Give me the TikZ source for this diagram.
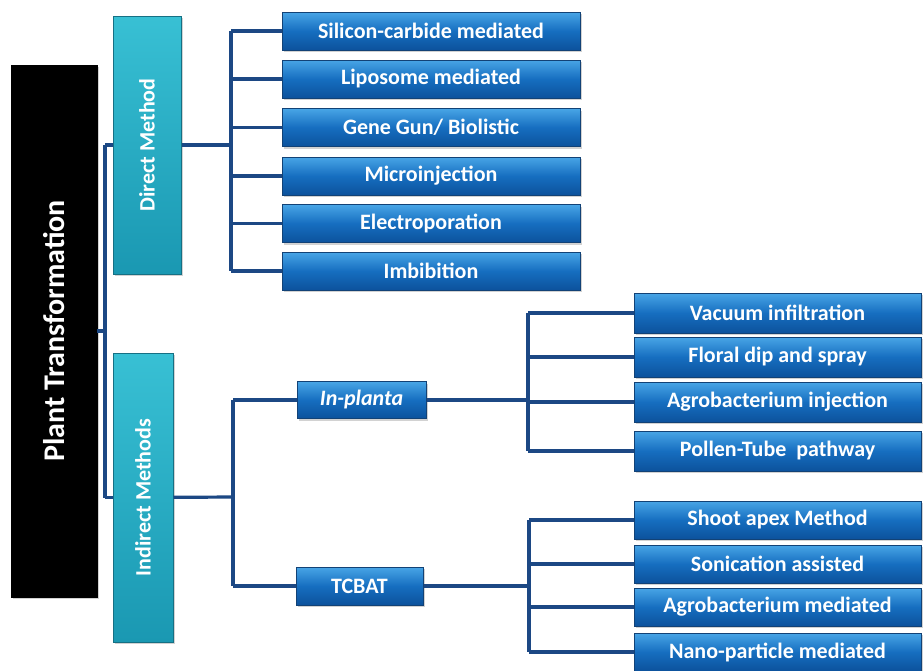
\documentclass[tikz,border=0pt]{standalone}
\usepackage{fontspec}
\setmainfont{Carlito}
\usetikzlibrary{shadows}
\definecolor{bluemid}{RGB}{22,110,192}
\definecolor{bluetop}{RGB}{72,165,230}
\definecolor{bluebot}{RGB}{12,82,156}
\definecolor{blueedge}{RGB}{18,66,118}
\definecolor{tealtop}{RGB}{56,192,212}
\definecolor{tealbot}{RGB}{26,152,178}
\definecolor{tealedge}{RGB}{22,112,132}
\definecolor{linecol}{RGB}{28,72,132}
\tikzset{
  bluebox/.style={draw=blueedge, line width=1pt, top color=bluetop, bottom color=bluebot, middle color=bluemid,
    text=white, font=\bfseries\fontsize{22}{26}\selectfont, inner sep=0pt,
    drop shadow={shadow xshift=1.5pt, shadow yshift=-2pt, opacity=0.35}},
  tealbox/.style={draw=tealedge, line width=1pt, top color=tealtop, bottom color=tealbot,
    text=white, font=\bfseries\fontsize{22}{26}\selectfont, inner sep=0pt, rotate=90,
    drop shadow={shadow xshift=1.5pt, shadow yshift=-2pt, opacity=0.35}},
  blackbox/.style={fill=black, draw=black, text=white, font=\bfseries\fontsize{30}{34}\selectfont,
    inner sep=0pt, rotate=90, drop shadow={shadow xshift=1.5pt, shadow yshift=-2pt, opacity=0.35}},
  conn/.style={draw=linecol, line width=3.2pt},
}
\begin{document}
\begin{tikzpicture}[x=1pt,y=-1pt]
\useasboundingbox (0,0) rectangle (923,670);
\fill[white] (0,0) rectangle (923,670);

% junction coordinates
\coordinate (j0) at (105,331);
\coordinate (jd) at (231,145);
\coordinate (ji) at (233,497);
\coordinate (jp) at (528,400);
\coordinate (jt) at (529,586);

% root
\node[blackbox, minimum width=532pt, minimum height=86pt] (pt) at (54,331) {Plant Transformation};
\node[tealbox, minimum width=258pt, minimum height=68pt] (dm) at (147,145) {Direct Method};
\node[tealbox, minimum width=289pt, minimum height=60pt] (im) at (143,497.5) {Indirect Methods};

% direct children
\foreach \n/\y/\t in {d1/31/{Silicon-carbide mediated}, d2/79/{Liposome mediated}, d3/127.5/{Gene Gun/ Biolistic},
  d4/176/{Microinjection}, d5/223.5/{Electroporation}, d6/271/{Imbibition}}{
  \node[bluebox, minimum width=298pt, minimum height=38pt] (\n) at (431,\y) {\t};
}

% indirect second level
\node[bluebox, minimum width=129pt, minimum height=37pt] (ip) at (361.5,400) {\itshape In-planta};
\node[bluebox, minimum width=127pt, minimum height=38pt] (tc) at (359.5,586) {TCBAT};

% in-planta children
\foreach \n/\y/\t in {p1/313/{Vacuum infiltration}, p2/357/{Floral dip and spray}, p3/402/{Agrobacterium injection},
  p4/451/{Pollen-Tube\ \ pathway}}{
  \node[bluebox, minimum width=287pt, minimum height=40pt] (\n) at (777.5,\y) {\t};
}
% TCBAT children
\foreach \n/\y/\t in {t1/520/{Shoot apex Method}, t2/564/{Sonication assisted}, t3/607/{Agrobacterium mediated},
  t4/652/{Nano-particle mediated}}{
  \node[bluebox, minimum width=287pt, minimum height=38pt] (\n) at (777.5,\y) {\t};
}

% root connectors
\draw[conn] (pt.south |- j0) -- (j0);
\draw[conn] (j0 |- dm) -- (j0 |- im);
\draw[conn] (j0 |- dm) -- (dm);
\draw[conn] (j0 |- im) -- (im);
% direct
\draw[conn] (dm) -- (jd);
\draw[conn] (jd |- d1) -- (jd |- d6);
\foreach \n in {d1,d2,d3,d4,d5,d6}{ \draw[conn] (jd |- \n) -- (\n.west); }
% indirect
\draw[conn] (im) -- (ji);
\draw[conn] (ji |- ip) -- (ji |- tc);
\draw[conn] (ji |- ip) -- (ip.west);
\draw[conn] (ji |- tc) -- (tc.west);
% in-planta
\draw[conn] (ip.east) -- (jp);
\draw[conn] (jp |- p1) -- (jp |- p4);
\foreach \n in {p1,p2,p3,p4}{ \draw[conn] (jp |- \n) -- (\n.west); }
% TCBAT
\draw[conn] (tc.east) -- (jt);
\draw[conn] (jt |- t1) -- (jt |- t4);
\foreach \n in {t1,t2,t3,t4}{ \draw[conn] (jt |- \n) -- (\n.west); }
\end{tikzpicture}
\end{document}
